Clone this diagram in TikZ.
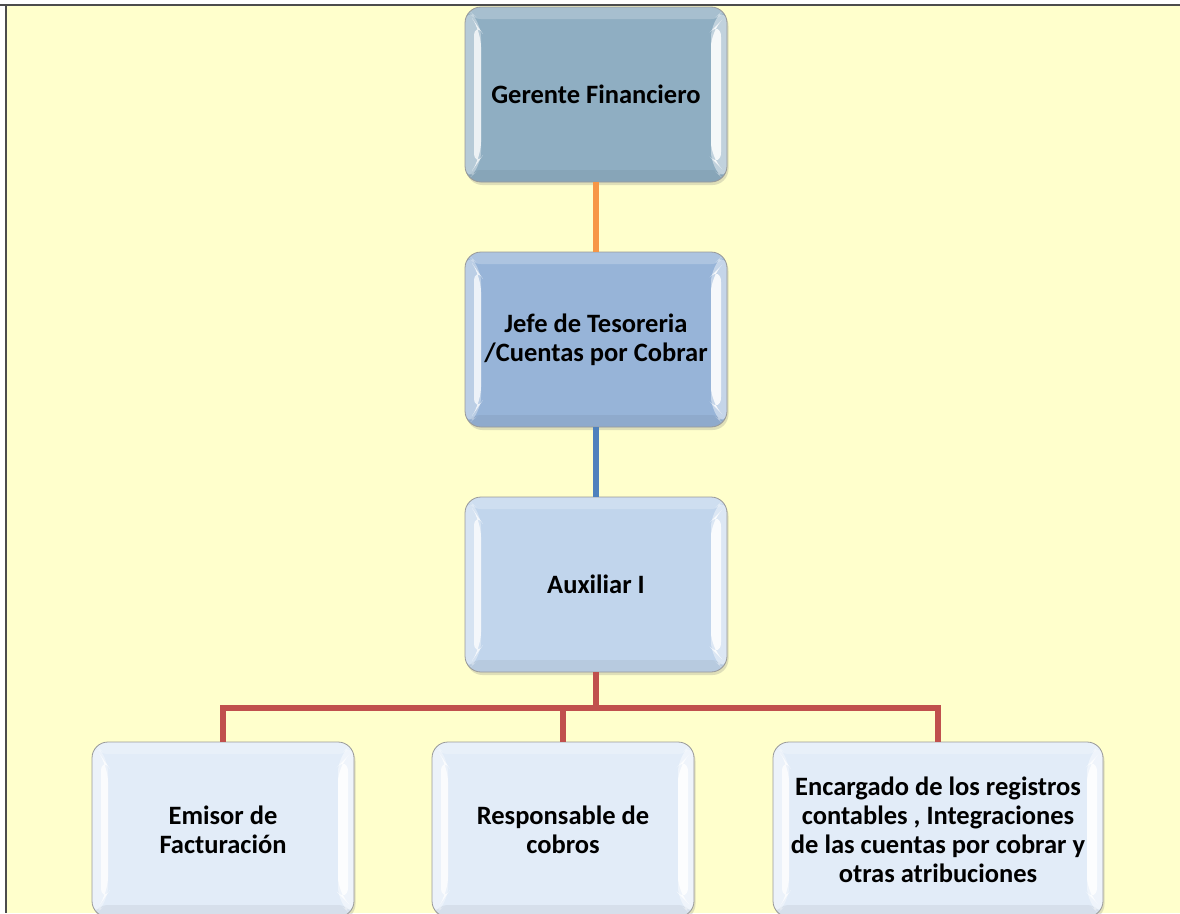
\documentclass[tikz,border=0pt]{standalone}
\usepackage{fontspec}
\setmainfont{Carlito}
\usetikzlibrary{shadows}
\definecolor{bgy}{HTML}{FFFFCC}
\definecolor{cg}{HTML}{8FAEC2}
\definecolor{cj}{HTML}{97B4D8}
\definecolor{ca}{HTML}{C1D5EC}
\definecolor{cb}{HTML}{E2ECF8}
\definecolor{lor}{HTML}{F79646}
\definecolor{lbl}{HTML}{4F81BD}
\definecolor{lrd}{HTML}{C0504D}
\tikzset{
  x=1pt,y=-1pt,
  box/.style={rounded corners=16pt, draw=black!40, line width=0.8pt,
    minimum height=175pt, inner sep=4pt, align=center,
    font=\bfseries\fontsize{26.5}{29}\selectfont,
    drop shadow={opacity=0.25, shadow xshift=1.5pt, shadow yshift=-3pt},
    path picture={
      \fill[white,opacity=0.22] (path picture bounding box.north west) rectangle ([yshift=-12pt]path picture bounding box.north east);
      \fill[black,opacity=0.05] ([yshift=12pt]path picture bounding box.south west) rectangle (path picture bounding box.south east);
      \fill[white,opacity=0.35] (path picture bounding box.north west)
        -- ([xshift=16pt,yshift=-14pt]path picture bounding box.north west)
        -- ([xshift=16pt,yshift=14pt]path picture bounding box.south west)
        -- (path picture bounding box.south west) -- cycle;
      \fill[white,opacity=0.75] ([xshift=9pt,yshift=-14pt]path picture bounding box.north west)
        -- ([xshift=16pt,yshift=-24pt]path picture bounding box.north west)
        -- ([xshift=16pt,yshift=24pt]path picture bounding box.south west)
        -- ([xshift=9pt,yshift=14pt]path picture bounding box.south west) -- cycle;
      \fill[white,opacity=0.45] (path picture bounding box.north east)
        -- ([xshift=-16pt,yshift=-14pt]path picture bounding box.north east)
        -- ([xshift=-16pt,yshift=14pt]path picture bounding box.south east)
        -- (path picture bounding box.south east) -- cycle;
      \fill[white,opacity=0.85] ([xshift=-6pt,yshift=-14pt]path picture bounding box.north east)
        -- ([xshift=-16pt,yshift=-24pt]path picture bounding box.north east)
        -- ([xshift=-16pt,yshift=24pt]path picture bounding box.south east)
        -- ([xshift=-6pt,yshift=14pt]path picture bounding box.south east) -- cycle;
    }},
  conn/.style={line width=5.5pt},
}
\begin{document}
\begin{tikzpicture}
\useasboundingbox (0,0) rectangle (1180,913);
\fill[white] (0,0) rectangle (1180,913);
\fill[bgy] (6,5) rectangle (1180,913);
\draw[black!70,line width=1.2pt] (0,5) -- (1180,5);
\draw[black!70,line width=1.2pt] (6,5) -- (6,913);

\coordinate (bus) at (596,708);

\node[box, fill=cg, minimum width=262pt] (g) at (596,94.5) {Gerente Financiero};
\node[box, fill=cj, minimum width=262pt] (j) at (596,339.5) {Jefe de Tesoreria\\/Cuentas por Cobrar};
\node[box, fill=ca, minimum width=262pt] (a) at (596,584.5) {Auxiliar I};

\node[box, fill=cb, minimum width=262pt] (e) at (223,829.5) {Emisor de\\Facturación};
\node[box, fill=cb, minimum width=262pt] (r) at (563,829.5) {Responsable de\\cobros};
\node[box, fill=cb, minimum width=330pt] (c) at (938,829.5) {Encargado de los registros\\contables , Integraciones\\de las cuentas por cobrar y\\otras atribuciones};

\draw[conn, lor] (g.south) -- (j.north);
\draw[conn, lbl] (j.south) -- (a.north);
\draw[conn, lrd] (a.south) -- (bus);
\draw[conn, lrd] (e.north) |- (bus);
\draw[conn, lrd] (c.north) |- (bus);
\draw[conn, lrd] (r.north) -- (r.north |- bus);
\end{tikzpicture}
\end{document}
